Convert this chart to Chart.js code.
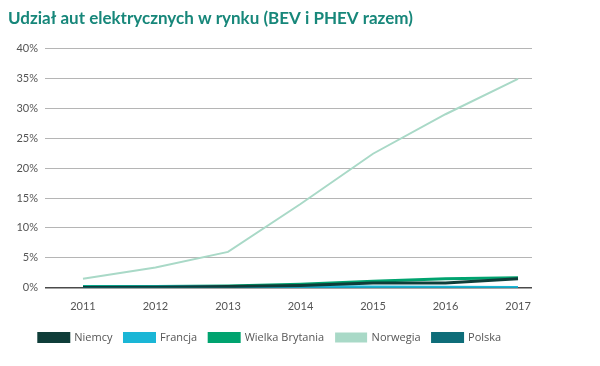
<!DOCTYPE html>
<html>
<head>
<meta charset="utf-8">
<script src="https://cdn.jsdelivr.net/npm/chart.js@4.4.1/dist/chart.umd.min.js"></script>
<style>
    body { margin: 0; background: #fff; }
    #wrap { width: 600px; height: 366px; }
</style>
</head>
<body>
<div id="wrap"><canvas id="udzialChart"></canvas></div>
<script>
// lata i udzial (%) aut elektrycznych w sprzedazy
const lata = [2011, 2012, 2013, 2014, 2015, 2016, 2017];
const niemcy = [0.05, 0.1, 0.2, 0.4, 0.8, 0.8, 1.5];
const francja = [0.1, 0.15, 0.2, 0.2, 0.15, 0.1, 0.05];
const wielkaBrytania = [0.2, 0.2, 0.3, 0.6, 1.1, 1.5, 1.7];
const norwegia = [1.5, 3.4, 6.0, 14.0, 22.4, 29.0, 34.9];
const polska = [0.0, 0.0, 0.0, 0.0, 0.0, 0.0, 0.0];
const yTicks = [0, 5, 10, 15, 20, 25, 30, 35, 40];

function punkty(values) {
    return lata.map((rok, i) => ({ x: rok, y: values[i] }));
}

function seria(label, values, color, width) {
    return {
        label: label,
        data: punkty(values),
        borderColor: color,
        backgroundColor: color,
        borderWidth: width,
        pointRadius: 0,
        tension: 0
    };
}

new Chart(document.getElementById('udzialChart'), {
    type: 'line',
    data: {
        datasets: [
            seria('Niemcy', niemcy, '#0f3d39', 3),
            seria('Francja', francja, '#1ab6d6', 3),
            seria('Wielka Brytania', wielkaBrytania, '#00a36f', 3),
            seria('Norwegia', norwegia, '#a9d9c7', 2),
            seria('Polska', polska, '#0e6d79', 3)
        ]
    },
    options: {
        responsive: true,
        maintainAspectRatio: false,
        animation: false,
        layout: {
            padding: { left: 8, right: 68, top: 0, bottom: 13 }
        },
        plugins: {
            title: {
                display: true,
                text: 'Udział aut elektrycznych w rynku (BEV i PHEV razem)',
                align: 'start',
                color: '#17877a',
                font: { family: 'Lato', size: 17, weight: 'bold' },
                padding: { top: 8, bottom: 20 }
            },
            legend: {
                position: 'bottom',
                padding: 0,
                labels: {
                    boxWidth: 30,
                    boxHeight: 8,
                    padding: 12,
                    color: '#555',
                    font: { family: 'Open Sans', size: 11 }
                }
            },
            tooltip: { enabled: false }
        },
        scales: {
            x: {
                type: 'linear',
                min: 2010.476,
                max: 2017.193,
                afterFit: (axis) => { axis.height -= 5; },
                grid: { display: false, drawTicks: false },
                border: { display: false },
                ticks: {
                    stepSize: 1,
                    includeBounds: false,
                    padding: 12,
                    color: '#555',
                    font: { family: 'Lato', size: 11 },
                    callback: (v) => Number.isInteger(v) ? String(v) : ''
                }
            },
            y: {
                min: yTicks[0],
                max: yTicks[yTicks.length - 1],
                afterFit: (axis) => { axis.width = 37; },
                grid: {
                    drawTicks: false,
                    color: (ctx) => ctx.tick && ctx.tick.value === 0 ? '#4a4a4a' : '#b5b5b5',
                    lineWidth: (ctx) => ctx.tick && ctx.tick.value === 0 ? 1.5 : 1
                },
                border: { display: false },
                ticks: {
                    stepSize: 5,
                    padding: 7,
                    color: '#555',
                    font: { family: 'Lato', size: 11 },
                    callback: (v) => v + '%'
                }
            }
        }
    }
});
</script>
</body>
</html>
